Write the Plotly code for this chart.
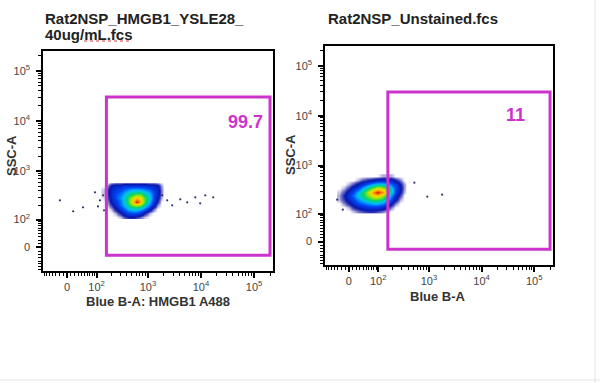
import numpy as np
import plotly.graph_objects as go

# ---------------- data ----------------
TITLE_LEFT = ["Rat2NSP_HMGB1_YSLE28_", "40ug/mL.fcs"]
TITLE_RIGHT = "Rat2NSP_Unstained.fcs"
XLABEL_LEFT = "Blue B-A: HMGB1 A488"
XLABEL_RIGHT = "Blue B-A"
YLABEL = "SSC-A"

MAJOR_VALUES = [0, 1e2, 1e3, 1e4, 1e5]
MAJOR_TEXT = ["0", "10<sup>2</sup>", "10<sup>3</sup>", "10<sup>4</sup>", "10<sup>5</sup>"]

# gate (Blue B-A low/high, SSC-A low/high) and frequency
GATE_X = [160, 200000]
GATE_Y = [-22, 30000]
GATE_LEFT_PCT = "99.7"
GATE_RIGHT_PCT = "11"

# density grids (bin centres in raw units) - stained sample
L_XBINS = [140, 170, 205, 245, 295, 355, 425, 510, 610, 735, 880, 1060, 1270, 1530, 1830]
L_YBINS = [115, 140, 170, 205, 245, 295, 355, 425, 510, 610]
L_DENS = [
    [0, 0, 0, 0, 0.2, 0.8, 1.2, 1.3, 1.0, 0.6, 0.2, 0, 0, 0, 0],
    [0, 0, 0, 0.3, 1.2, 2.2, 3, 3, 3, 2.5, 1.2, 0.3, 0, 0, 0],
    [0, 0, 0.3, 1.3, 2.5, 3.5, 4.5, 5, 5, 4.5, 3.5, 1.8, 0.6, 0, 0],
    [0, 0.2, 1, 2, 3.5, 4.5, 6, 7, 7.5, 7, 5.5, 3.5, 2, 0.4, 0],
    [0, 0.4, 1.5, 2.5, 3.5, 5, 6.5, 8, 10, 8.5, 6.5, 4.5, 2.5, 1, 0],
    [0.1, 0.7, 2, 3, 4, 5, 6.5, 7.5, 8.5, 8, 6.5, 5, 3, 1.5, 0.2],
    [0.2, 0.9, 2, 3, 3.5, 4.5, 5.5, 6, 6.5, 6.5, 5.5, 4.5, 3, 2, 0.4],
    [0.2, 0.9, 2, 2.5, 3, 3.5, 4, 4.5, 4.5, 4.5, 4, 3.5, 2.5, 2, 0.4],
    [0, 0.4, 1.5, 2, 2, 2.5, 2.5, 2.5, 2.5, 2.5, 2.5, 2, 2, 1.5, 0.3],
    [0, 0, 0, 0, 0, 0, 0, 0, 0, 0, 0, 0, 0, 0, 0],
]
# sparse events - stained sample
L_DOTS_X = [-19, 16, 45, 92, 118, 107, 137, 143, 1860, 2310, 2870, 4070, 5510, 7800, 9660, 12060, 17000]
L_DOTS_Y = [258, 152, 185, 376, 258, 193, 326, 160, 326, 258, 203, 270, 235, 297, 224, 326, 297]
L_TOP_X = [260, 4630, 93000]

# unstained sample
R_XBINS = [-25, -12, 0, 12, 25, 40, 56, 75, 97, 122, 152, 187, 228, 278, 335]
R_YBINS = [115, 140, 170, 205, 245, 295, 355, 425, 510, 610]
R_DENS = [
    [0, 0, 0, 0.2, 0.5, 0.8, 1, 1, 0.8, 0.5, 0.2, 0, 0, 0, 0],
    [0, 0, 0.3, 1, 1.5, 2, 2.5, 2.5, 2.5, 2, 1.2, 0.5, 0, 0, 0],
    [0, 0.5, 1.2, 2, 3, 3.5, 4, 4.5, 4.5, 4, 3, 1.5, 0.5, 0, 0],
    [0.3, 1, 2, 3, 4, 5, 6, 6.5, 6.5, 6, 4.5, 3, 1.5, 0.3, 0],
    [0.3, 1.2, 2.5, 3.5, 5, 6, 7, 8, 8.5, 7.5, 6, 4, 2, 0.8, 0],
    [0.2, 0.8, 2, 3, 4.5, 6, 7.5, 9, 10, 9, 7.5, 5, 3, 1.2, 0.2],
    [0, 0.3, 1, 2, 3, 4.5, 6, 7, 8, 7.5, 6.5, 5, 3, 1.5, 0.3],
    [0, 0, 0.3, 0.8, 1.5, 2.5, 3.5, 4.5, 5, 5, 4.5, 3.5, 2.5, 1.2, 0.3],
    [0, 0, 0, 0, 0.3, 0.8, 1.2, 1.5, 2, 2, 2, 1.8, 1.2, 0.5, 0],
    [0, 0, 0, 0, 0, 0, 0, 0, 0, 0.3, 0.3, 0.3, 0, 0, 0],
]
R_DOTS_X = [526, 928, 1780, -16, -32]
R_DOTS_Y = [452, 235, 258, 124, 203]
R_TOP_X = [238]
SSC_MAX = 262143


# ---------------- helpers ----------------
def biex(v):
    return np.arcsinh(np.asarray(v, dtype=float) / 60.0) / np.log(10)


minor_vals = ([-v for v in range(10, 80, 10)] + list(range(10, 100, 10))
              + [k * 10 ** n for n in (2, 3, 4) for k in range(2, 10)] + [200000])

PSEUDO = [
    [0.0, "rgb(255,255,255)"],
    [0.05, "rgb(120,120,200)"],
    [0.12, "rgb(10,20,170)"],
    [0.3, "rgb(0,70,245)"],
    [0.45, "rgb(0,190,255)"],
    [0.6, "rgb(0,215,110)"],
    [0.72, "rgb(170,230,0)"],
    [0.82, "rgb(255,215,0)"],
    [0.91, "rgb(255,120,0)"],
    [1.0, "rgb(215,20,0)"],
]
MAGENTA = "rgb(204,51,204)"
FONT = "Liberation Sans, Arial, sans-serif"
W, H = 600, 383

fig = go.Figure()

panels = [
    dict(xa="x", ya="y", xb=L_XBINS, yb=L_YBINS, z=L_DENS, dx=L_DOTS_X, dy=L_DOTS_Y, top=L_TOP_X),
    dict(xa="x2", ya="y2", xb=R_XBINS, yb=R_YBINS, z=R_DENS, dx=R_DOTS_X, dy=R_DOTS_Y, top=R_TOP_X),
]
for p in panels:
    fig.add_trace(go.Heatmap(
        x=biex(p["xb"]), y=biex(p["yb"]), z=p["z"], xaxis=p["xa"], yaxis=p["ya"],
        colorscale=PSEUDO, zmin=0, zmax=10, zsmooth="best", showscale=False,
        hoverinfo="skip"))
    fig.add_trace(go.Scatter(
        x=biex(p["dx"]), y=biex(p["dy"]), xaxis=p["xa"], yaxis=p["ya"], mode="markers",
        marker=dict(size=2.2, color="rgb(50,50,110)"), hoverinfo="skip"))
    fig.add_trace(go.Scatter(
        x=biex(p["top"]), y=biex([SSC_MAX] * len(p["top"])), xaxis=p["xa"], yaxis=p["ya"],
        mode="markers", cliponaxis=False,
        marker=dict(symbol="line-ew", size=7, line=dict(width=3, color="black")),
        hoverinfo="skip"))


def px2x(px):
    return px / W


def px2y(py):
    return 1 - py / H


xrange_ = [-0.453, 3.88]
yrange_ = [-0.47, 3.92]
common_axis = dict(
    showline=True, linecolor="black", linewidth=1.5, mirror=True,
    ticks="outside", ticklen=5, tickwidth=1.5, tickcolor="black",
    tickmode="array", tickvals=biex(MAJOR_VALUES), ticktext=MAJOR_TEXT,
    tickfont=dict(family=FONT, size=11, color="#444"),
    showgrid=False, zeroline=False, automargin=False,
    minor=dict(tickmode="array", tickvals=biex(minor_vals), ticks="outside",
               ticklen=3, tickwidth=1, tickcolor="black", showgrid=False),
)

fig.update_layout(
    width=W, height=H, margin=dict(l=0, r=0, t=0, b=0, pad=0, autoexpand=False),
    paper_bgcolor="white", plot_bgcolor="white", showlegend=False,
    xaxis=dict(domain=[px2x(43), px2x(273)], range=xrange_, anchor="y", **common_axis),
    yaxis=dict(domain=[px2y(271), px2y(51)], range=yrange_, anchor="x",
               ticklabelstandoff=4, **common_axis),
    xaxis2=dict(domain=[px2x(325), px2x(553)], range=xrange_, anchor="y2", **common_axis),
    yaxis2=dict(domain=[px2y(265), px2y(46)], range=yrange_, anchor="x2",
                ticklabelstandoff=4, **common_axis),
)

# gates
for xa, ya in (("x", "y"), ("x2", "y2")):
    fig.add_shape(type="rect", xref=xa, yref=ya,
                  x0=biex(GATE_X[0]), x1=biex(GATE_X[1]),
                  y0=biex(GATE_Y[0]), y1=biex(GATE_Y[1]),
                  line=dict(color=MAGENTA, width=3), layer="above")

fig.add_annotation(xref="x", yref="y", x=3.36, y=2.5, text="<b>" + GATE_LEFT_PCT + "</b>",
                   showarrow=False, font=dict(family=FONT, size=18, color=MAGENTA))
fig.add_annotation(xref="x2", yref="y2", x=3.17, y=2.54, text="<b>" + GATE_RIGHT_PCT + "</b>",
                   showarrow=False, font=dict(family=FONT, size=18, color=MAGENTA))

# titles
tfont = dict(family=FONT, size=15, color="#222")
fig.add_annotation(xref="paper", yref="paper", x=px2x(43), y=px2y(18), xanchor="left",
                   yanchor="middle", text="<b>" + TITLE_LEFT[0] + "</b>", showarrow=False, font=tfont)
fig.add_annotation(xref="paper", yref="paper", x=px2x(43), y=px2y(34), xanchor="left",
                   yanchor="middle", text="<b>" + TITLE_LEFT[1] + "</b>", showarrow=False, font=tfont)
fig.add_annotation(xref="paper", yref="paper", x=px2x(326), y=px2y(18), xanchor="left",
                   yanchor="middle", text="<b>" + TITLE_RIGHT + "</b>", showarrow=False, font=tfont)
# spell-check squiggle under "mL.fcs"
fig.add_shape(type="line", xref="paper", yref="paper", x0=px2x(84), x1=px2x(130),
              y0=px2y(41), y1=px2y(41), line=dict(color="rgb(220,60,60)", width=1, dash="dot"))

lfont = dict(family=FONT, size=13, color="#333")
fig.add_annotation(xref="paper", yref="paper", x=px2x(158), y=px2y(301), xanchor="center",
                   yanchor="middle", text="<b>" + XLABEL_LEFT + "</b>", showarrow=False, font=lfont)
fig.add_annotation(xref="paper", yref="paper", x=px2x(438), y=px2y(296), xanchor="center",
                   yanchor="middle", text="<b>" + XLABEL_RIGHT + "</b>", showarrow=False, font=lfont)
fig.add_annotation(xref="paper", yref="paper", x=px2x(11), y=px2y(156), xanchor="center",
                   yanchor="middle", text="<b>" + YLABEL + "</b>", textangle=-90,
                   showarrow=False, font=lfont)
fig.add_annotation(xref="paper", yref="paper", x=px2x(290), y=px2y(155), xanchor="center",
                   yanchor="middle", text="<b>" + YLABEL + "</b>", textangle=-90,
                   showarrow=False, font=lfont)

# faint page border
fig.add_shape(type="line", xref="paper", yref="paper", x0=px2x(595), x1=px2x(595), y0=0, y1=1,
              line=dict(color="#e4e4e4", width=1))
fig.add_shape(type="line", xref="paper", yref="paper", x0=0, x1=1, y0=px2y(380), y1=px2y(380),
              line=dict(color="#e4e4e4", width=1))

fig.write_html("out.html", config={"displayModeBar": False},
               post_script="document.body.style.margin='0';document.body.style.padding='0';")
